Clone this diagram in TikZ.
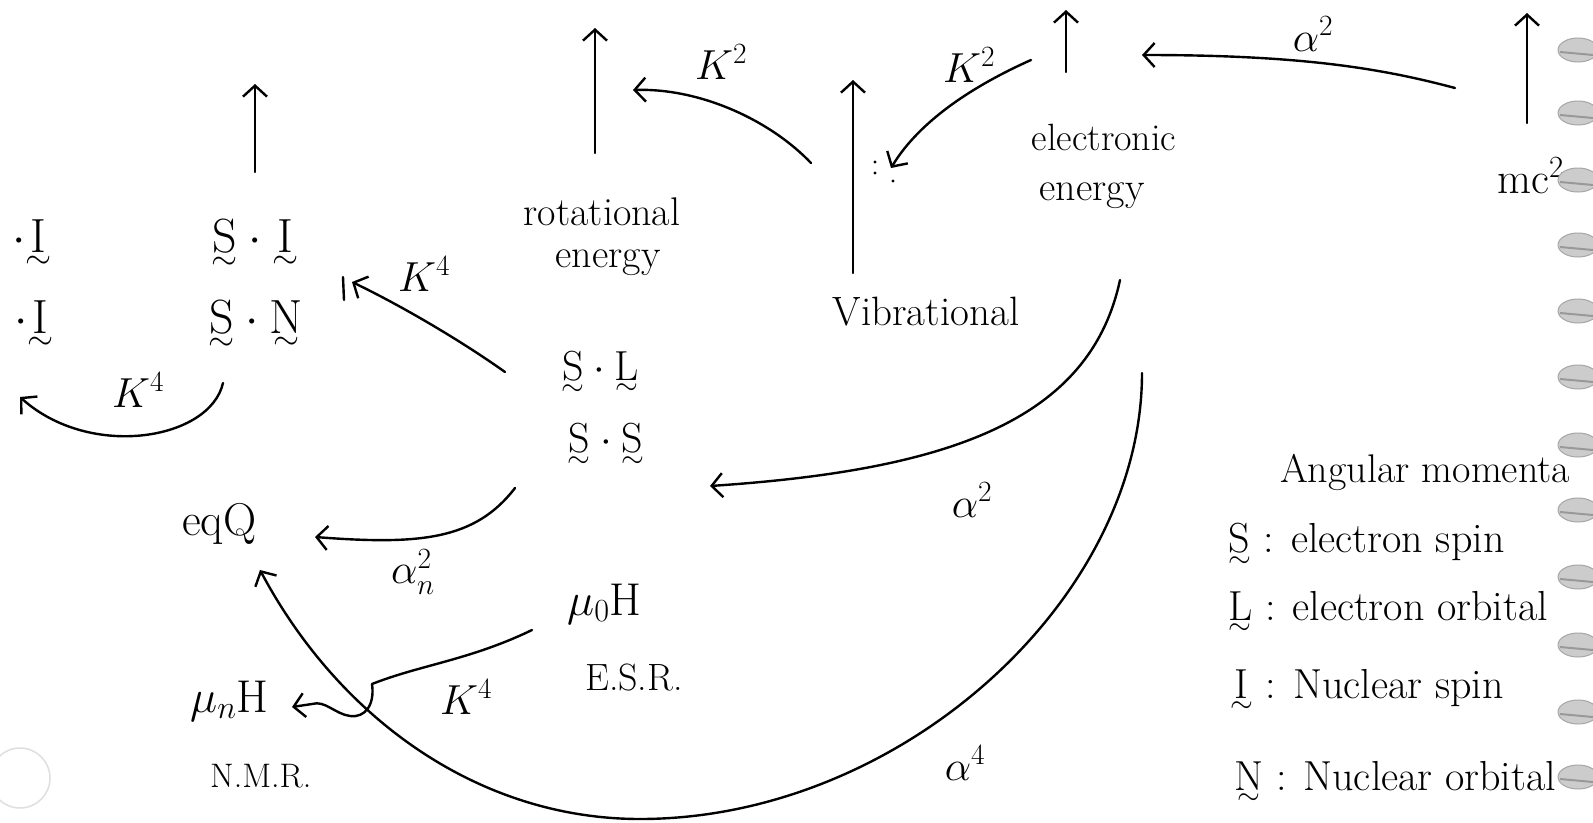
\RequirePackage{fix-cm}
\documentclass[tikz,border=0pt]{standalone}
\usepackage{amsmath}
\usepackage{fontspec}
\usetikzlibrary{arrows.meta}
\newcommand{\vt}[1]{\smash[b]{\underset{\sim}{\mathrm{#1}}}}
\newcommand{\fs}[1]{\fontsize{#1}{#1}\selectfont}
\begin{document}
\begin{tikzpicture}[x=1pt,y=-1pt,
  ink/.style={line width=2.4pt, line cap=round, line join=round},
  arr/.style={ink, -{Straight Barb[length=11pt,width=24pt,line width=2.4pt]}},
  txt/.style={inner sep=0pt},
  lab/.style={inner sep=0pt, font=\fs{42}},
  ring/.style={fill=gray!40, draw=gray!70, line width=1pt}
]
\useasboundingbox (0,0) rectangle (1593,822);
\fill[white] (0,0) rectangle (1593,822);

% ---------- nodes ----------
\node[txt, font=\fs{48}, anchor=base] (SI) at (255,252) {$\vt{S}\cdot\vt{I}$};
\node[txt, font=\fs{48}, anchor=base] (SN) at (256,333) {$\vt{S}\cdot\vt{N}$};
\node[txt, font=\fs{48}, anchor=base east] (I1) at (52,252) {$\cdot\vt{I}$};
\node[txt, font=\fs{48}, anchor=base east] (I2) at (54,333) {$\cdot\vt{I}$};
\node[txt, font=\fs{40}, anchor=base] (rot1) at (602,225) {rotational};
\node[txt, font=\fs{40}, anchor=base] (rot2) at (608,267) {energy};
\node[txt, font=\fs{41}, anchor=base] (vib) at (926,325) {Vibrational};
\node[txt, font=\fs{38}, anchor=base] (ele1) at (1104,150) {electronic};
\node[txt, font=\fs{40}, anchor=base] (ele2) at (1092,200) {energy};
\node[txt, font=\fs{44}, anchor=base west] (mc) at (1497,193) {mc$^2$};
\node[txt, font=\fs{42}, anchor=base] (SL1) at (600,380) {$\vt{S}\cdot\vt{L}$};
\node[txt, font=\fs{42}, anchor=base] (SL2) at (606,452) {$\vt{S}\cdot\vt{S}$};
\node[txt, font=\fs{46}, anchor=base west] (eqQ) at (182,535) {eqQ};
\node[txt, font=\fs{46}, anchor=base west] (m0H) at (567,615) {$\mu_0\mathrm{H}$};
\node[txt, font=\fs{38}, anchor=base west] (ESR) at (585,690) {E.S.R.};
\node[txt, font=\fs{46}, anchor=base west] (mnH) at (190,712) {$\mu_n\mathrm{H}$};
\node[txt, font=\fs{34}, anchor=base west] (NMR) at (210,787) {N.M.R.};

% labels
\node[lab] (lk4a) at (138,390) {$K^4$};
\node[lab] (lk4b) at (424,274) {$K^4$};
\node[lab] (lk2a) at (721,62) {$K^2$};
\node[lab] (lk2b) at (969,65) {$K^2$};
\node[lab] (la2t) at (1313,34) {$\alpha^2$};
\node[lab] (la2m) at (972,500) {$\alpha^2$};
\node[lab] (la4) at (965,763) {$\alpha^4$};
\node[lab] (lan) at (413,572) {$\alpha_n^2$};
\node[lab] (lk4c) at (466,697) {$K^4$};

% legend
\node[txt, font=\fs{40}, anchor=base west] (lh) at (1280,482) {Angular momenta};
\node[txt, font=\fs{42}, anchor=base west] (l1) at (1228,552) {$\vt{S}$ : electron spin};
\node[txt, font=\fs{42}, anchor=base west] (l2) at (1228,620) {$\vt{L}$ : electron orbital};
\node[txt, font=\fs{42}, anchor=base west] (l3) at (1230,698) {$\vt{I}$ : Nuclear spin};
\node[txt, font=\fs{42}, anchor=base west] (l4) at (1234,790) {$\vt{N}$ : Nuclear orbital};

% ---------- coordinates ----------
\coordinate (a1s) at (255,172); \coordinate (a1e) at (255,84);
\coordinate (a2s) at (595,153); \coordinate (a2e) at (595,28);
\coordinate (a3s) at (853,273); \coordinate (a3e) at (853,80);
\coordinate (a4s) at (1066,72); \coordinate (a4e) at (1066,10);
\coordinate (a5s) at (1527,123); \coordinate (a5e) at (1527,13);
\coordinate (k4aS) at (223,383); \coordinate (k4aE) at (20,397);
\coordinate (k4bS) at (505,372); \coordinate (k4bE) at (352,282);
\coordinate (k2aS) at (811,163); \coordinate (k2aE) at (633,90);
\coordinate (k2bS) at (1031,60); \coordinate (k2bE) at (891,168);
\coordinate (a2tS) at (1455,88); \coordinate (a2tE) at (1142,55);
\coordinate (a2mS) at (1120,280); \coordinate (a2mE) at (710,486);
\coordinate (a4S) at (1142,373); \coordinate (a4M) at (640,819); \coordinate (a4E) at (260,570);
\coordinate (anS) at (515,488); \coordinate (anE) at (315,537);
\coordinate (k4cS) at (532,630); \coordinate (k4cM) at (372,684); \coordinate (k4cE) at (292,707);

% ---------- connectors ----------
\draw[arr] (a1s) -- (a1e);
\draw[arr] (a2s) -- (a2e);
\draw[arr] (a3s) -- (a3e);
\draw[arr] (a4s) -- (a4e);
\draw[arr] (a5s) -- (a5e);
\draw[arr] (k4aS) .. controls (210,440) and (90,460) .. (k4aE);
\draw[arr] (k4bS) .. controls (460,340) and (400,305) .. (k4bE);
\draw[ink] (343,277) -- (344,300);
\draw[arr] (k2aS) .. controls (770,120) and (700,88) .. (k2aE);
\draw[arr] (k2bS) .. controls (975,85) and (920,120) .. (k2bE);
\fill (875,162) circle (1.6pt); \fill (875,173) circle (1.6pt); \fill (893,181) circle (1.6pt);
\draw[arr] (a2tS) .. controls (1380,68) and (1300,55) .. (a2tE);
\draw[arr] (a2mS) .. controls (1090,420) and (950,470) .. (a2mE);
\draw[arr] (a4S) .. controls (1142,600) and (900,819) .. (a4M) .. controls (480,819) and (340,720) .. (a4E);
\draw[arr] (anS) .. controls (475,540) and (420,545) .. (anE);
\draw[arr] (k4cS) .. controls (470,660) and (420,665) .. (k4cM) .. controls (375,705) and (365,718) .. (350,716) .. controls (335,714) and (325,700) .. (312,704) -- (k4cE);

% ---------- faint punch hole, bottom left ----------
\draw[gray!25, line width=1.5pt] (20,778) circle (30);

% ---------- spiral binding ----------
\foreach \yy in {-15,50,113,180,245,311,377,445,510,577,645,712,777} {
  \fill[ring] (1578,\yy) ellipse (20 and 12);
  \draw[gray!80, line width=2pt] (1560,\yy+2) -- (1593,\yy+5);
}
\end{tikzpicture}
\end{document}
